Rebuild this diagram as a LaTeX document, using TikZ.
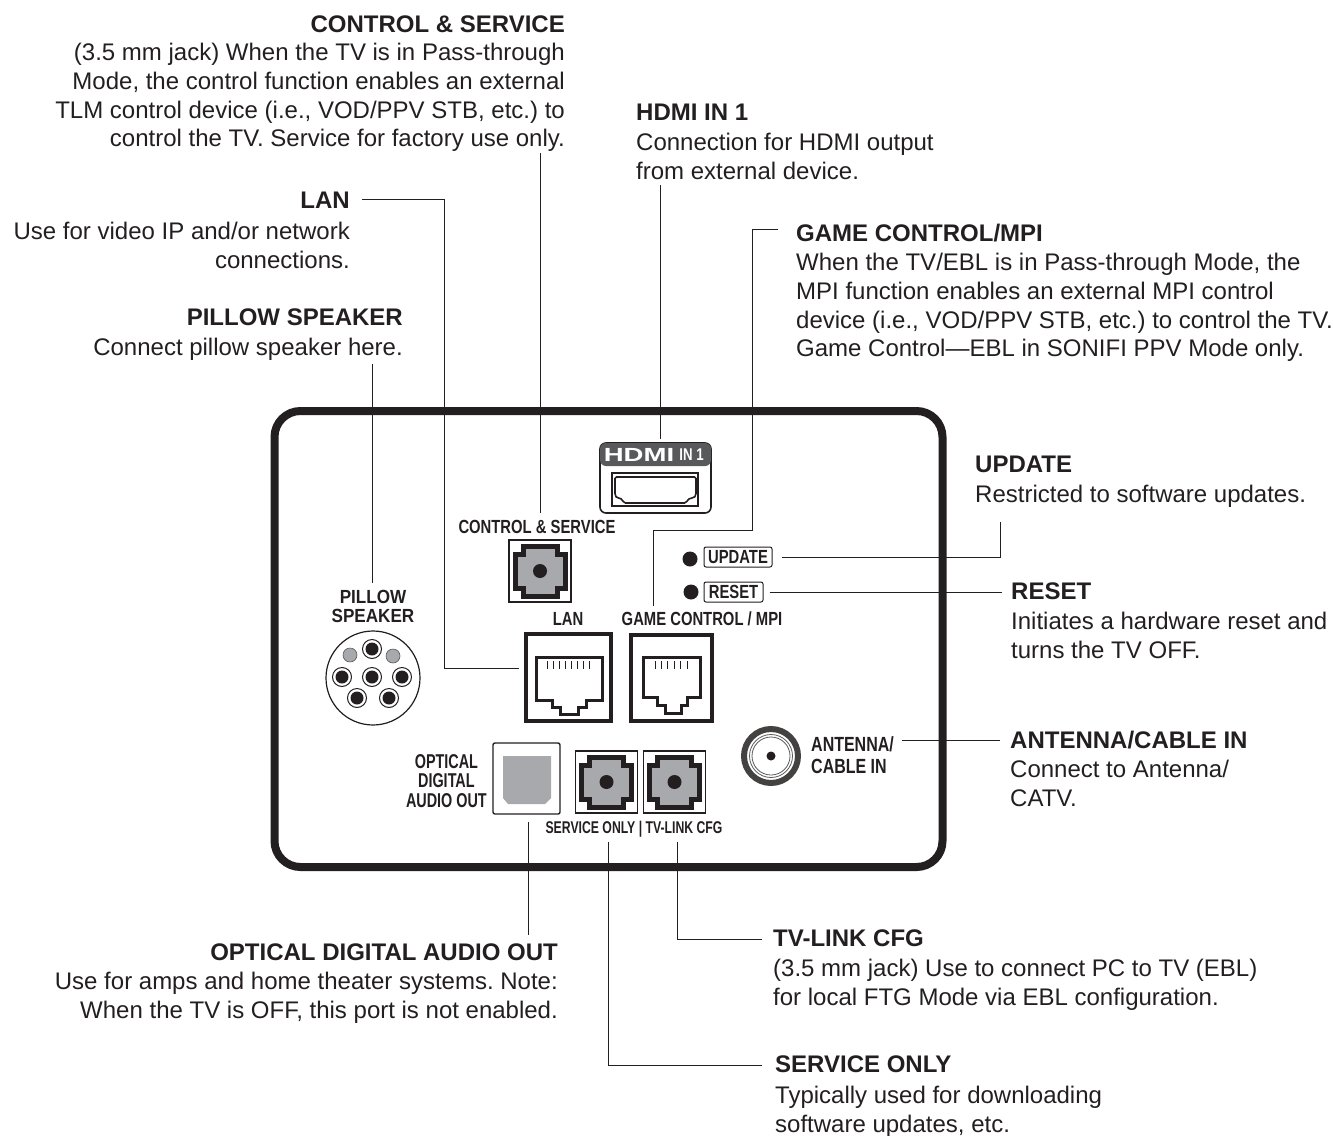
\documentclass[tikz,border=0pt]{standalone}
\usepackage{fontspec}
\setmainfont{Liberation Sans}
\newfontfamily\panelfont[FakeStretch=0.78]{Liberation Sans}
\newfontfamily\tightfont[FakeStretch=0.72]{Liberation Sans}
\newfontfamily\roundfont[FakeStretch=0.9]{Liberation Sans}
\newfontfamily\logofont[FakeStretch=1.45]{Liberation Sans}
\definecolor{inkdark}{RGB}{35,31,32}
\definecolor{jackgrey}{RGB}{167,169,172}
\definecolor{headgrey}{RGB}{88,89,91}
\usetikzlibrary{positioning}

\begin{document}
\frenchspacing
\begin{tikzpicture}[
    x=1pt, y=-1pt,
    title/.style={inner sep=0pt, yshift=1pt, text=inkdark, font=\fontsize{24}{28.8}\selectfont\bfseries},
    body/.style={inner sep=0pt, yshift=1pt, text=inkdark, font=\fontsize{24}{28.8}\selectfont},
    panel/.style={inner sep=0pt, text=inkdark, align=center, font=\panelfont\fontsize{19}{19.5}\selectfont\bfseries},
    wire/.style={draw=inkdark, line width=1pt},
    plate/.style={draw=inkdark, line width=1.2pt, minimum size=62pt, inner sep=0pt},
    rjplate/.style={draw=inkdark, line width=4pt, inner sep=0pt},
    keybox/.style={draw=inkdark, line width=1pt, rounded corners=2pt, inner sep=0pt,
      minimum height=20pt, text=inkdark, font=\panelfont\fontsize{19}{19}\selectfont\bfseries},
    jackport/.pic={
      \draw[inkdark, fill=jackgrey, line width=5pt, line join=miter]
        (-17,-25) -- (17,-25) -- (17,-17) -- (25,-17) -- (25,17) -- (17,17)
        -- (17,25) -- (-17,25) -- (-17,17) -- (-25,17) -- (-25,-17) -- (-17,-17) -- cycle;
      \fill[inkdark] (0,0) circle (7);
    }
  ]
  \useasboundingbox (0,0) rectangle (1333,1135);

  %% Rear panel
  \node[draw=inkdark, line width=8pt, rounded corners=26pt, minimum width=668pt,
        minimum height=456pt, inner sep=0pt] (rearpanel) at (608.5,639) {};

  %% HDMI port
  \node[draw=inkdark, line width=1.6pt, rounded corners=6pt, minimum width=111pt,
        minimum height=70pt, inner sep=0pt] (hdmiport) at (655.5,478) {};
  \fill[headgrey, rounded corners=6pt] (600,443) -- (711,443) -- (711,466) -- (600,466) -- cycle;
  \node[inner sep=0pt, text=white, font=\logofont\fontsize{19}{19}\selectfont\bfseries] (hdmilogo) at (639,455) {HDMI};
  \node[inner sep=0pt, text=white, font=\panelfont\fontsize{17}{17}\selectfont\bfseries] (hdmiin) at (691.5,455) {IN 1};
  \node[draw=inkdark, line width=1.8pt, minimum width=86pt, minimum height=33pt, inner sep=0pt] (hdmislot) at (655,489.5) {};
  \draw[inkdark, line width=1.6pt, rounded corners=1.5pt]
    (615,477) -- (696,477) -- (696,492) .. controls (696,500) and (689,496) .. (686,503)
    -- (624,503) .. controls (621,496) and (615,500) .. (615,492) -- cycle;

  %% Control and service jack
  \node[panel] (ctrllabel) at (537,527) {CONTROL \& SERVICE};
  \node[plate] (ctrljack) at (540,571) {};
  \pic at (ctrljack) {jackport};

  %% Update and reset keys
  \fill[inkdark] (690,559) circle (7.5);
  \fill[inkdark] (691,592) circle (7.5);
  \node[keybox, minimum width=68pt] (updatebox) at (738,557) {UPDATE};
  \node[keybox, minimum width=59pt] (resetbox) at (733.5,592) {RESET};

  %% Pillow speaker
  \node[panel, font=\roundfont\fontsize{19}{19}\selectfont\bfseries] (pillowlabel) at (373,606) {PILLOW\\SPEAKER};
  \node[circle, draw=inkdark, line width=1.2pt, minimum size=94pt, inner sep=0pt] (pillowport) at (373,678) {};
  \foreach \px/\py in {350/655, 393/656}
    \filldraw[fill=jackgrey, draw=headgrey, line width=0.6pt] (\px,\py) circle (7);
  \foreach \px/\py in {372/649, 342/677, 372/677, 402/677, 357/698, 389/698} {
    \draw[inkdark, line width=1pt] (\px,\py) circle (9.5);
    \fill[inkdark] (\px,\py) circle (6.5);
  }

  %% LAN port
  \node[panel] (lanlabel) at (568,619) {LAN};
  \node[rjplate, minimum width=85pt, minimum height=87pt] (lanport) at (568.5,677.5) {};
  \draw[inkdark, line width=3pt]
    (536,657) -- (602,657) -- (602,700) -- (586,700) -- (586,707) -- (578,707) -- (578,714)
    -- (560,714) -- (560,707) -- (552,707) -- (552,700) -- (536,700) -- cycle;
  \foreach \px in {547,553,559,565,571,577,583,589}
    \draw[inkdark, line width=0.7pt] (\px,661) -- (\px,669);

  %% Game control port
  \node[panel] (gamelabel) at (702,619) {GAME CONTROL / MPI};
  \node[rjplate, minimum width=81pt, minimum height=86pt] (gameport) at (671.5,678) {};
  \draw[inkdark, line width=3pt]
    (643,657) -- (700,657) -- (700,697) -- (687,697) -- (687,705) -- (681,705) -- (681,713)
    -- (665,713) -- (665,705) -- (657,705) -- (657,697) -- (643,697) -- cycle;
  \foreach \px in {655,661,667,674,680,687}
    \draw[inkdark, line width=0.7pt] (\px,661) -- (\px,669);

  %% Antenna connector
  \node[circle, draw=inkdark!85, line width=6pt, minimum size=54pt, inner sep=0pt] (antport) at (771,756) {};
  \draw[headgrey, line width=0.8pt] (771,756) circle (21.5);
  \draw[headgrey, line width=0.8pt] (771,756) circle (19);
  \fill[inkdark] (771,756) circle (4.5);
  \node[panel, align=left, anchor=north west, font=\panelfont\fontsize{20.5}{22}\selectfont\bfseries] (antlabel) at (811,736) {ANTENNA/\\CABLE IN};

  %% Optical output
  \node[panel, anchor=east, font=\tightfont\fontsize{20}{19.5}\selectfont\bfseries] (optlabel) at (487,781) {OPTICAL\\DIGITAL\\AUDIO OUT};
  \node[draw=inkdark, line width=1.4pt, rounded corners=2pt, minimum width=67pt,
        minimum height=71pt, inner sep=0pt] (optport) at (526.5,778.5) {};
  \fill[jackgrey] (503,756) -- (551,756) -- (551,798) -- (545,804) -- (508,804) -- (503,798) -- cycle;

  %% Service and TV-link jacks
  \node[plate] (servjack) at (606.5,782) {};
  \pic at (servjack) {jackport};
  \node[plate] (linkjack) at (674.5,782) {};
  \pic at (linkjack) {jackport};
  \node[panel, font=\tightfont\fontsize{17}{17}\selectfont\bfseries] (jacklabel) at (634,829) {SERVICE ONLY | TV-LINK CFG};

  %% Texts, left side
  \node[title, anchor=north east] (ctrltitle) at (565,17) {CONTROL \& SERVICE};
  \node[body, anchor=north east, align=right] (ctrltext) at (565,44) {(3.5 mm jack) When the TV is in Pass-through\\Mode, the control function enables an external\\TLM control device (i.e., VOD/PPV STB, etc.) to\\control the TV. Service for factory use only.};
  \node[title, anchor=north east] (lantitle) at (350,193) {LAN};
  \node[body, anchor=north east, align=right] (lantext) at (350,223) {Use for video IP and/or network\\connections.};
  \node[title, anchor=north east] (pillowtitle) at (403,310) {PILLOW SPEAKER};
  \node[body, anchor=north east] (pillowtext) at (403,339) {Connect pillow speaker here.};
  \node[title, anchor=north east] (opttitle) at (558,945) {OPTICAL DIGITAL AUDIO OUT};
  \node[body, anchor=north east, align=right] (opttext) at (558,973) {Use for amps and home theater systems. Note:\\When the TV is OFF, this port is not enabled.};

  %% Texts, right side
  \node[title, anchor=north west] (hdmititle) at (636,105) {HDMI IN 1};
  \node[body, anchor=north west, align=left] (hdmitext) at (636,134) {Connection for HDMI output\\from external device.};
  \node[title, anchor=north west] (gametitle) at (796,225) {GAME CONTROL/MPI};
  \node[body, anchor=north west, align=left] (gametext) at (796,254) {When the TV/EBL is in Pass-through Mode, the\\MPI function enables an external MPI control\\device (i.e., VOD/PPV STB, etc.) to control the TV.\\Game Control---EBL in SONIFI PPV Mode only.};
  \node[title, anchor=north west] (updatetitle) at (975,457) {UPDATE};
  \node[body, anchor=north west] (updatetext) at (975,486) {Restricted to software updates.};
  \node[title, anchor=north west] (resettitle) at (1011,584) {RESET};
  \node[body, anchor=north west, align=left] (resettext) at (1011,613) {Initiates a hardware reset and\\turns the TV OFF.};
  \node[title, anchor=north west] (anttitle) at (1010,732) {ANTENNA/CABLE IN};
  \node[body, anchor=north west, align=left] (anttext) at (1010,761) {Connect to Antenna/\\CATV.};
  \node[title, anchor=north west] (linktitle) at (773,931) {TV-LINK CFG};
  \node[body, anchor=north west, align=left] (linktext) at (773,960) {(3.5 mm jack) Use to connect PC to TV (EBL)\\for local FTG Mode via EBL configuration.};
  \node[title, anchor=north west] (servtitle) at (775,1057) {SERVICE ONLY};
  \node[body, anchor=north west, align=left] (servtext) at (775,1087) {Typically used for downloading\\software updates, etc.};

  %% Connector ends and bends
  \coordinate (ctrlout) at (540,153);
  \coordinate (hdmiout) at (660,185);
  \coordinate (lanout) at (362,199);
  \coordinate (lanbend) at (444.5,199);
  \coordinate (lanend) at (519,668);
  \coordinate (gameout) at (778,229);
  \coordinate (gamebend) at (752.5,229);
  \coordinate (gamestep) at (752.5,530.5);
  \coordinate (gameend) at (653,606);
  \coordinate (pillowout) at (372,364);
  \coordinate (updateout) at (1000,522);
  \coordinate (resetout) at (1002,592);
  \coordinate (antout) at (1000,740);
  \coordinate (antend) at (902,740);
  \coordinate (optout) at (528,935);
  \coordinate (servstart) at (608,842);
  \coordinate (servout) at (762,1065);
  \coordinate (linkstart) at (677,842);
  \coordinate (linkout) at (762,939);

  %% Connectors
  \draw[wire, shorten >=7pt] (ctrlout) -- (ctrlout |- ctrllabel.north);
  \draw[wire, shorten >=3pt] (hdmiout) -- (hdmiout |- hdmiport.north);
  \draw[wire] (lanout) -- (lanbend) |- (lanend);
  \draw[wire] (gameout) -- (gamebend) -- (gamestep) -| (gameend);
  \draw[wire, shorten >=7pt] (pillowout) -- (pillowout |- pillowlabel.north);
  \draw[wire, shorten <=9pt] (updatebox.east) -| (updateout);
  \draw[wire, shorten <=6pt] (resetbox.east) -- (resetout);
  \draw[wire] (antend) -- (antout);
  \draw[wire, shorten <=7pt] (optport.south -| optout) -- (optout);
  \draw[wire] (servstart) |- (servout);
  \draw[wire] (linkstart) |- (linkout);

\end{tikzpicture}
\end{document}
